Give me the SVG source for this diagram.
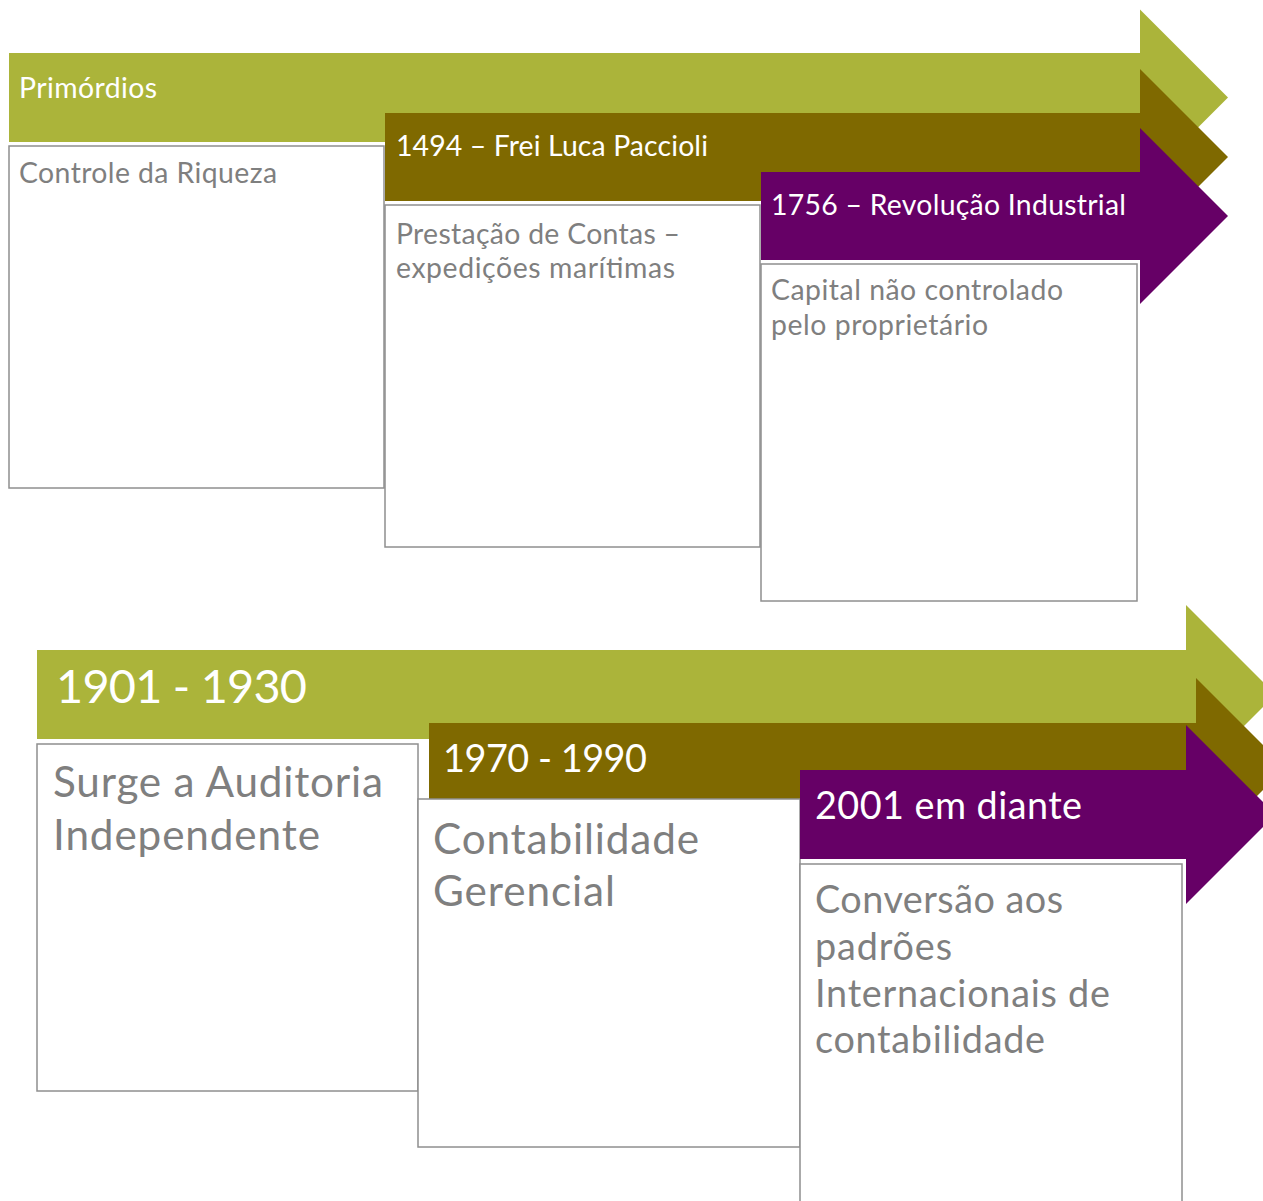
<svg xmlns="http://www.w3.org/2000/svg" width="1263" height="1201" viewBox="0 0 1263 1201">
<style>
.bg{fill:#ffffff}
.green{fill:#ABB43A}
.brown{fill:#7F6900}
.purple{fill:#660066}
.box{fill:#ffffff;stroke:#8F8F8F;stroke-width:1.5}
.hd{font-family:Lato,"Liberation Sans",sans-serif;fill:#ffffff}
.tx{font-family:Lato,"Liberation Sans",sans-serif;fill:#7F7F7F}
.s1{font-size:28.4px}
.s2{font-size:46.8px}
.s3{font-size:37.8px}
.s4{font-size:42.3px}
</style>
<rect class="bg" x="0" y="0" width="1263" height="1201"/>
<g id="primordios">
<path class="green" d="M9,53 H1140 V9.5 L1228,97.5 L1140,185.5 V142 H9 Z"/>
<text class="hd s1" x="19" y="98" textLength="138">Primórdios</text>
<rect class="box" x="9" y="146" width="375" height="342"/>
<text class="tx s1" x="19" y="183" textLength="258">Controle da Riqueza</text>
</g>
<g id="paccioli">
<path class="brown" d="M385,113 H1140 V69 L1228,157 L1140,245 V201 H385 Z"/>
<text class="hd s1" x="396" y="156" textLength="312">1494 – Frei Luca Paccioli</text>
<rect class="box" x="385" y="205" width="375" height="342"/>
<text class="tx s1" x="396" y="244" textLength="284">Prestação de Contas –</text>
<text class="tx s1" x="396" y="278" textLength="279">expedições marítimas</text>
</g>
<g id="revolucao">
<path class="purple" d="M761,172 H1140 V128 L1228,216 L1140,304 V260 H761 Z"/>
<text class="hd s1" x="771" y="215" textLength="355">1756 – Revolução Industrial</text>
<rect class="box" x="761" y="264" width="376" height="337"/>
<text class="tx s1" x="771" y="300" textLength="292">Capital não controlado</text>
<text class="tx s1" x="771" y="335" textLength="217">pelo proprietário</text>
</g>
<g id="auditoria">
<path class="green" d="M37,650 H1186 V605 L1275.5,694.5 L1186,784 V739 H37 Z"/>
<text class="hd s2" x="56" y="703" textLength="251">1901 - 1930</text>
<rect class="box" x="37" y="744" width="381" height="347"/>
<text class="tx s4" x="53" y="797" textLength="330">Surge a Auditoria</text>
<text class="tx s4" x="53" y="850" textLength="267">Independente</text>
</g>
<g id="gerencial">
<path class="brown" d="M429,723 H1196 V678 L1285.5,767.5 L1196,857 V812 H429 Z"/>
<text class="hd s3" x="443" y="772" textLength="204">1970 - 1990</text>
<rect class="box" x="418" y="799" width="382" height="348"/>
<text class="tx s4" x="433" y="854" textLength="266">Contabilidade</text>
<text class="tx s4" x="433" y="906" textLength="182">Gerencial</text>
</g>
<g id="internacional">
<path class="purple" d="M800,770 H1186 V725 L1275.5,814.5 L1186,904 V859 H800 Z"/>
<text class="hd s3" x="815" y="819" textLength="267">2001 em diante</text>
<rect class="box" x="800" y="864" width="382" height="360"/>
<text class="tx s3" x="815" y="913" textLength="248">Conversão aos</text>
<text class="tx s3" x="815" y="960" textLength="137">padrões</text>
<text class="tx s3" x="815" y="1007" textLength="295">Internacionais de</text>
<text class="tx s3" x="815" y="1053" textLength="230">contabilidade</text>
</g>
<g id="connectors"/>
</svg>
